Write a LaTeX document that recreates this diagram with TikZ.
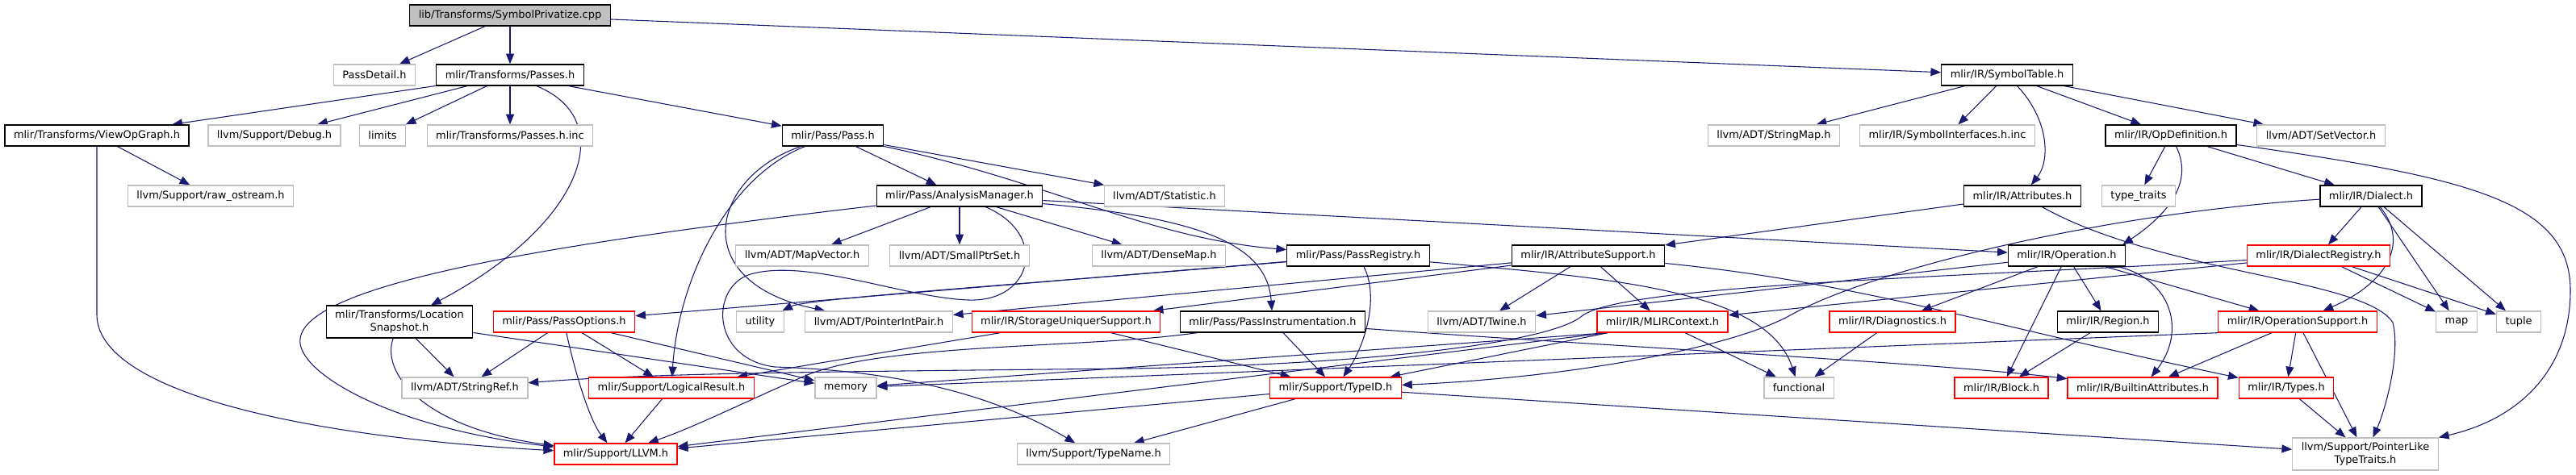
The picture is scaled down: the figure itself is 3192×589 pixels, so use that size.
\documentclass[tikz,border=0pt]{standalone}
\usepackage{fontspec}
\setmainfont{DejaVu Sans}
\usetikzlibrary{arrows.meta, backgrounds}
\definecolor{edgeblue}{HTML}{191970}
\definecolor{boxgrey}{HTML}{BFBFBF}
\tikzset{
  box/.style     = {rectangle, fill=white, inner xsep=8.25pt, inner ysep=0pt,
                    minimum height=19.5pt, line width=1pt,
                    font=\fontsize{9.7}{11.8}\selectfont},
  file/.style    = {box, draw=black},
  extfile/.style = {box, draw=boxgrey},
  cutfile/.style = {box, draw=red},
  mainfile/.style= {box, draw=black, fill=boxgrey},
  twoline/.style = {align=center, minimum height=30pt},
  inc/.style     = {-{Triangle[length=9.5pt,width=7.5pt]}, draw=edgeblue,
                    line width=0.8pt},
}

\begin{document}
\begin{tikzpicture}[x=0.75pt, y=-0.75pt]
  \useasboundingbox (0,0) rectangle (3192,589);

  % rows of the include graph
  \node[mainfile] (root) at (632,19) {lib/Transforms/SymbolPrivatize.cpp};

  \node[extfile] (passdetail) at (464,93)  {PassDetail.h};
  \node[file]    (passes)     at (632,93)  {mlir/Transforms/Passes.h};
  \node[file]    (symtab)     at (2487,93) {mlir/IR/SymbolTable.h};

  \node[file]    (viewop)     at (120,168)  {mlir/Transforms/ViewOpGraph.h};
  \node[extfile] (debug)      at (340,168)  {llvm/Support/Debug.h};
  \node[extfile] (limits)     at (474,168)  {limits};
  \node[extfile] (passesinc)  at (632,168)  {mlir/Transforms/Passes.h.inc};
  \node[file]    (pass)       at (1032,168) {mlir/Pass/Pass.h};
  \node[extfile] (stringmap)  at (2198,168) {llvm/ADT/StringMap.h};
  \node[extfile] (syminc)     at (2413,168) {mlir/IR/SymbolInterfaces.h.inc};
  \node[file]    (opdef)      at (2690,168) {mlir/IR/OpDefinition.h};
  \node[extfile] (setvector)  at (2876,168) {llvm/ADT/SetVector.h};

  \node[extfile] (rawos)      at (261,243)  {llvm/Support/raw\_ostream.h};
  \node[file]    (am)         at (1189,243) {mlir/Pass/AnalysisManager.h};
  \node[extfile] (statistic)  at (1443,243) {llvm/ADT/Statistic.h};
  \node[file]    (attrs)      at (2506,243) {mlir/IR/Attributes.h};
  \node[extfile] (typetraits) at (2650,243) {type\_traits};
  \node[file]    (dialect)    at (2938,243) {mlir/IR/Dialect.h};

  \node[extfile] (mapvec)     at (994,317)  {llvm/ADT/MapVector.h};
  \node[extfile] (smallptr)   at (1189,317) {llvm/ADT/SmallPtrSet.h};
  \node[extfile] (densemap)   at (1436,317) {llvm/ADT/DenseMap.h};
  \node[file]    (preg)       at (1683,317) {mlir/Pass/PassRegistry.h};
  \node[file]    (attrsup)    at (1968,317) {mlir/IR/AttributeSupport.h};
  \node[file]    (operation)  at (2561,317) {mlir/IR/Operation.h};
  \node[cutfile] (dreg)       at (2873,317) {mlir/IR/DialectRegistry.h};

  \node[file, twoline] (locsnap) at (495,399) {mlir/Transforms/Location\\Snapshot.h};
  \node[cutfile] (popts)      at (699,399)  {mlir/Pass/PassOptions.h};
  \node[extfile] (utility)    at (942,399)  {utility};
  \node[extfile] (pip)        at (1089,399) {llvm/ADT/PointerIntPair.h};
  \node[cutfile] (suniq)      at (1321,399) {mlir/IR/StorageUniquerSupport.h};
  \node[file]    (pinst)      at (1577,399) {mlir/Pass/PassInstrumentation.h};
  \node[extfile] (twine)      at (1836,399) {llvm/ADT/Twine.h};
  \node[cutfile] (mlirctx)    at (2060,399) {mlir/IR/MLIRContext.h};
  \node[cutfile] (diag)       at (2345,399) {mlir/IR/Diagnostics.h};
  \node[file]    (region)     at (2612,399) {mlir/IR/Region.h};
  \node[cutfile] (opsup)      at (2847,399) {mlir/IR/OperationSupport.h};
  \node[extfile] (map)        at (3044,399) {map};
  \node[extfile] (tuple)      at (3121,399) {tuple};

  \node[extfile] (strref)     at (576,481)  {llvm/ADT/StringRef.h};
  \node[cutfile] (logres)     at (832,481)  {mlir/Support/LogicalResult.h};
  \node[extfile] (memory)     at (1048,481) {memory};
  \node[cutfile] (typeid)     at (1655,481) {mlir/Support/TypeID.h};
  \node[extfile] (functional) at (2229,481) {functional};
  \node[cutfile] (block)      at (2480,481) {mlir/IR/Block.h};
  \node[cutfile] (battrs)     at (2655,481) {mlir/IR/BuiltinAttributes.h};
  \node[cutfile] (types)      at (2833,481) {mlir/IR/Types.h};

  \node[cutfile] (llvm)       at (763,563)  {mlir/Support/LLVM.h};
  \node[extfile] (typename)   at (1355,563) {llvm/Support/TypeName.h};
  \node[extfile, twoline] (ptrlike) at (2931,563) {llvm/Support/PointerLike\\TypeTraits.h};

  \begin{scope}[on background layer]
    \fill[white] (0,0) rectangle (3192,589);

    % SymbolPrivatize.cpp
    \draw[inc] (root) -- (passdetail);
    \draw[inc] (root) -- (passes);
    \draw[inc] (root) -- (symtab);

    % Passes.h
    \draw[inc] (passes) -- (viewop);
    \draw[inc] (passes) -- (debug);
    \draw[inc] (passes) -- (limits);
    \draw[inc] (passes) -- (passesinc);
    \draw[inc] (passes) -- (pass);
    \draw[inc] (passes) .. controls (770,150) and (720,280) .. (locsnap);

    % ViewOpGraph.h
    \draw[inc] (viewop) -- (rawos);
    \draw[inc] (viewop) -- (120,390) .. controls (120,480) and (350,540) .. (llvm);

    % SymbolTable.h
    \draw[inc] (symtab) -- (stringmap);
    \draw[inc] (symtab) -- (syminc);
    \draw[inc] (symtab) -- (opdef);
    \draw[inc] (symtab) -- (setvector);
    \draw[inc] (symtab) .. controls (2540,150) and (2540,200) .. (attrs);

    % Pass.h
    \draw[inc] (pass) -- (am);
    \draw[inc] (pass) -- (statistic);
    \draw[inc] (pass) .. controls (1300,225) and (1420,295) .. (preg);
    \draw[inc] (pass) .. controls (900,220) and (840,350) .. (logres);
    \draw[inc] (pass) .. controls (880,220) and (850,350) .. ([xshift=-50pt]pip.north);

    % AnalysisManager.h
    \draw[inc] (am) -- (mapvec);
    \draw[inc] (am) -- (smallptr);
    \draw[inc] (am) -- (densemap);
    \draw[inc] (am) -- (operation);
    \draw[inc] (am) .. controls (1480,270) and (1570,300) .. (pinst);
    \draw[inc] (am) .. controls (700,300) and (380,350) .. (372,420)
                    .. controls (366,460) and (480,530) .. (llvm);
    \draw[inc] (am) .. controls (1300,290) and (1280,375) .. (1200,372)
                    .. controls (1120,369) and (1000,320) .. (930,340)
                    .. controls (880,355) and (880,445) .. (960,455)
                    .. controls (1050,458) and (1200,470) .. (typename);

    % OpDefinition.h
    \draw[inc] (opdef) -- (typetraits);
    \draw[inc] (opdef) -- (dialect);
    \draw[inc] (opdef) .. controls (2720,230) and (2680,270) .. ([xshift=-3pt]operation.north east);
    \draw[inc] (opdef) .. controls (3060,220) and (3185,250) .. (3185,360)
                       .. controls (3185,460) and (3120,520) .. (ptrlike);

    % Attributes.h
    \draw[inc] (attrs) -- (attrsup);
    \draw[inc] (attrs) .. controls (2680,340) and (2930,345) .. (2965,400)
                       .. controls (2975,440) and (2955,510) .. (ptrlike);

    % Dialect.h
    \draw[inc] (dialect) -- (dreg);
    \draw[inc] (dialect) .. controls (2985,300) and (2960,350) .. (opsup);
    \draw[inc] (dialect) -- (map);
    \draw[inc] (dialect) -- (tuple);
    \draw[inc] (dialect) .. controls (2600,265) and (2320,335) .. (2220,390)
                         .. controls (2150,430) and (1950,468) .. (typeid);

    % PassRegistry.h
    \draw[inc] (preg) .. controls (1300,350) and (1000,370) .. (utility);
    \draw[inc] (preg) -- (popts);
    \draw[inc] (preg) .. controls (1710,370) and (1690,430) .. (typeid);
    \draw[inc] (preg) .. controls (2000,345) and (2190,360) .. (functional);

    % AttributeSupport.h
    \draw[inc] (attrsup) -- (twine);
    \draw[inc] (attrsup) -- (mlirctx);
    \draw[inc] (attrsup) -- (pip);
    \draw[inc] (attrsup) -- (suniq);
    \draw[inc] (attrsup) .. controls (2300,350) and (2450,400) .. (types);

    % Operation.h
    \draw[inc] (operation) -- (twine);
    \draw[inc] (operation) -- (diag);
    \draw[inc] (operation) -- (block);
    \draw[inc] (operation) -- (region);
    \draw[inc] (operation) -- (opsup);
    \draw[inc] (operation) .. controls (2690,345) and (2710,410) .. (battrs);

    % DialectRegistry.h
    \draw[inc] (dreg) -- (map);
    \draw[inc] (dreg) -- (tuple);
    \draw[inc] (dreg) -- (mlirctx);
    \draw[inc] (dreg) .. controls (2450,343) and (2010,352) .. (1960,392)
                      .. controls (1920,425) and (1700,452) .. (1400,457)
                      .. controls (1000,461) and (800,463) .. (strref);

    % LocationSnapshot.h
    \draw[inc] (locsnap) -- (strref);
    \draw[inc] (locsnap) -- (memory);
    \draw[inc] (locsnap) .. controls (472,460) and (520,530) .. (llvm);

    % PassOptions.h
    \draw[inc] (popts) -- (strref);
    \draw[inc] (popts) -- (logres);
    \draw[inc] (popts) -- (memory);
    \draw[inc] (popts) .. controls (712,460) and (730,520) .. (llvm);

    % StorageUniquerSupport.h
    \draw[inc] (suniq) -- (logres);
    \draw[inc] (suniq) -- (typeid);

    % PassInstrumentation.h
    \draw[inc] (pinst) -- (typeid);
    \draw[inc] (pinst) .. controls (2000,430) and (2400,450) .. (battrs);
    \draw[inc] (pinst) .. controls (1350,432) and (1100,425) .. (1000,465)
                       .. controls (930,495) and (860,530) .. (llvm);

    % MLIRContext.h
    \draw[inc] (mlirctx) -- (functional);
    \draw[inc] (mlirctx) -- (typeid);
    \draw[inc] ([xshift=10pt]mlirctx.south west) -- (llvm);
    \draw[inc] ([xshift=10pt]mlirctx.south west) -- (memory);

    % the rest
    \draw[inc] (diag) -- (functional);
    \draw[inc] (region) -- (block);
    \draw[inc] (opsup) -- (battrs);
    \draw[inc] (opsup) -- (types);
    \draw[inc] (opsup) -- (ptrlike);
    \draw[inc] (opsup.south west) -- (memory);
    \draw[inc] (logres) -- (llvm);
    \draw[inc] (typeid) -- (llvm);
    \draw[inc] (typeid) -- (typename);
    \draw[inc] (typeid) -- (ptrlike);
    \draw[inc] (types) -- (ptrlike);
  \end{scope}
\end{tikzpicture}
\end{document}
